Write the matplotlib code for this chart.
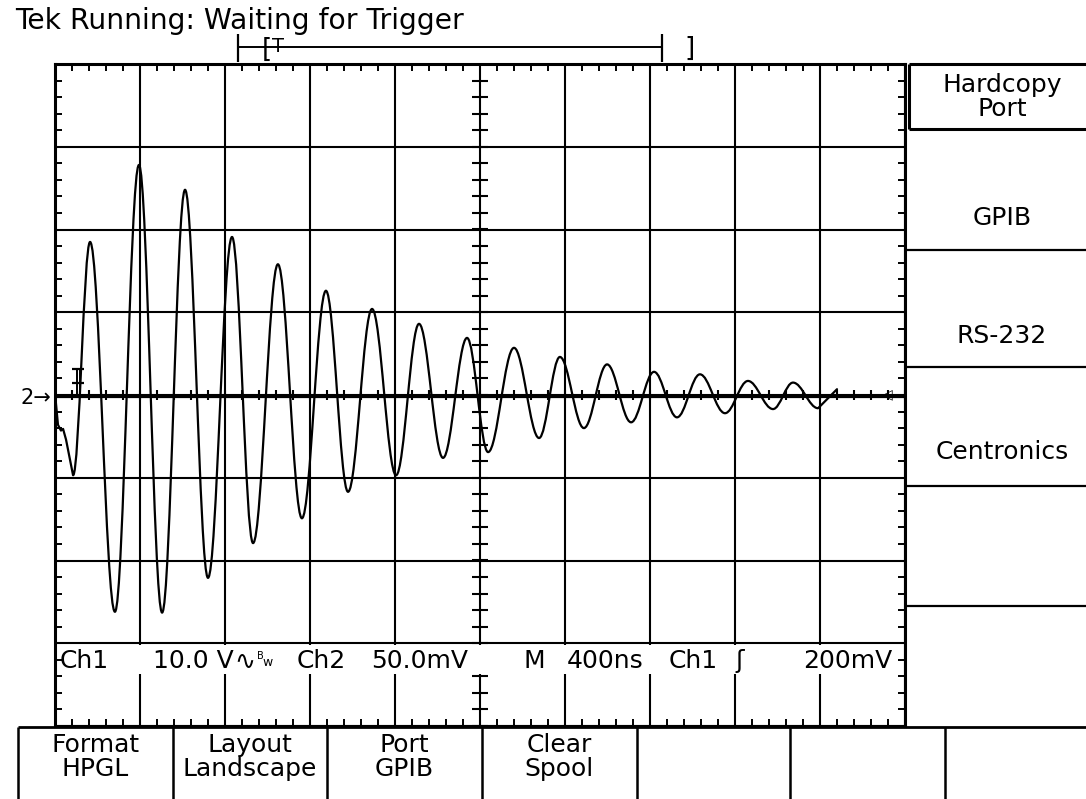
import numpy as np
import matplotlib
matplotlib.use("Agg")
import matplotlib.pyplot as plt
from matplotlib.path import Path
from matplotlib.patches import PathPatch, Rectangle
from matplotlib.ticker import MultipleLocator

# ---------------- data ----------------
time_per_div_ns = 400.0
ch1_volts_per_div = 10.0
ch2_mv_per_div = 50.0
trigger_time_ns = 110.0

# initial glitch of channel 1 (straight segments)
ch1_lead_time_ns = [0, 14, 28, 38, 52]
ch1_lead_volts = [0.2, -3.6, -4.3, -4.1, -5.4]
# successive extrema of the ringing (peaks / troughs)
ch1_ext_time_ns = [85, 165, 282, 395, 504, 612, 720, 833, 932, 1049, 1162,
                   1275, 1379, 1492, 1605, 1713, 1826, 1939, 2038, 2160, 2278,
                   2376, 2489, 2598, 2711, 2819, 2927, 3035, 3153, 3261, 3379,
                   3473, 3591]
ch1_ext_volts = [-9.7, 18.5, -26.2, 27.8, -26.3, 24.8, -22.1, 19.1, -17.9,
                 15.8, -14.9, 12.6, -11.7, 10.4, -9.7, 8.6, -7.6, 6.9, -6.9,
                 5.7, -5.2, 4.6, -4.0, 3.7, -3.3, 2.8, -2.7, 2.5, -2.2, 1.7,
                 -1.7, 1.5, -1.6]
ch1_tail_time_ns = [3680]
ch1_tail_volts = [0.7]

ch2_time_ns = [0, 4000]
ch2_mv = [-1.2, -1.2]

title_text = "Tek Running: Waiting for Trigger"
side_menu = ["Hardcopy\nPort", "GPIB", "RS-232", "Centronics", "", ""]
bottom_menu = ["Format\nHPGL", "Layout\nLandscape", "Port\nGPIB", "Clear\nSpool", "", "", ""]
readout = [("Ch1", 60), ("10.0 V", 153), ("\u223f", 234), ("Ch2", 297),
           ("50.0mV", 371), ("M", 523), ("400ns", 567), ("Ch1", 669),
           ("\u0283", 735), ("200mV", 803)]

# ---------------- layout ----------------
W, H, DPI = 1086, 799, 100
FONT = "DejaVu Sans"
plt.rcParams["font.family"] = [FONT]

fig = plt.figure(figsize=(W / DPI, H / DPI), dpi=DPI, facecolor="white")

gx0, gx1, gy0, gy1 = 55, 905, 64, 726   # graticule in pixels
ax = fig.add_axes([gx0 / W, (H - gy1) / H, (gx1 - gx0) / W, (gy1 - gy0) / H])
ax.set_xlim(0, 10)
ax.set_ylim(-4, 4)
ax.set_axisbelow(True)
ax.set_xticks(np.arange(0, 11, 1))
ax.set_yticks(np.arange(-4, 5, 1))
ax.xaxis.set_minor_locator(MultipleLocator(0.2))
ax.yaxis.set_minor_locator(MultipleLocator(0.2))
ax.tick_params(which="major", length=0, labelbottom=False, labelleft=False)
ax.tick_params(which="minor", direction="in", length=5, width=1.4,
               top=True, right=True, bottom=True, left=True, color="black")
ax.grid(True, which="major", color="black", lw=1.5)
for sp in ax.spines.values():
    sp.set_linewidth(2.2)
    sp.set_color("black")

# center-axis tick marks
cx = np.arange(0, 10.001, 0.2)
cy = np.arange(-4, 4.001, 0.2)
ax.plot(cx, np.zeros_like(cx), ls="none", marker="|", ms=7.5, mew=1.5,
        color="black", zorder=1)
ax.plot(np.full_like(cy, 5.0), cy, ls="none", marker="_", ms=11, mew=1.5,
        color="black", zorder=1)

# white band for the readout line
px_per_div_y = (gy1 - gy0) / 8.0
band_top = (395 - 645) / px_per_div_y
band_bot = (395 - 674) / px_per_div_y
ax.add_patch(Rectangle((0.08, band_bot), 9.84, band_top - band_bot,
                       facecolor="white", edgecolor="none", zorder=1.5))

# channel 2 flat trace
ax.plot(np.array(ch2_time_ns) / time_per_div_ns,
        np.array(ch2_mv) / ch2_mv_per_div, color="black", lw=1.6, zorder=2)

# channel 1 trace: lines for the glitch, smooth half-cycles between extrema
def to_div(t, v):
    return (t / time_per_div_ns, v / ch1_volts_per_div)

verts, codes = [], []
lead = [to_div(t, v) for t, v in zip(ch1_lead_time_ns, ch1_lead_volts)]
ext = [to_div(t, v) for t, v in zip(ch1_ext_time_ns, ch1_ext_volts)]
tail = [to_div(t, v) for t, v in zip(ch1_tail_time_ns, ch1_tail_volts)]
verts.append(lead[0]); codes.append(Path.MOVETO)
for p in lead[1:] + [ext[0]]:
    verts.append(p); codes.append(Path.LINETO)
k = 1 - 2 / np.pi
for p0, p1 in zip(ext[:-1], ext[1:]):
    dx = p1[0] - p0[0]
    verts += [(p0[0] + k * dx, p0[1]), (p1[0] - k * dx, p1[1]), p1]
    codes += [Path.CURVE4] * 3
for p in tail:
    verts.append(p); codes.append(Path.LINETO)
ax.add_patch(PathPatch(Path(verts, codes), facecolor="none", edgecolor="black",
                       lw=1.6, zorder=3, capstyle="round", joinstyle="round"))

# ---------------- overlay in pixel coordinates ----------------
ov = fig.add_axes([0, 0, 1, 1], zorder=5)
ov.set_xlim(0, W)
ov.set_ylim(H, 0)
ov.axis("off")
ov.patch.set_alpha(0)

def seg(xs, ys, lw=2.0):
    ov.plot(xs, ys, color="black", lw=lw, solid_capstyle="butt")

ov.text(15, 21, title_text, fontsize=20.3, ha="left", va="center")

# record-length bar
seg([238, 238], [34, 62], 1.6)
seg([662, 662], [34, 62], 1.6)
seg([238, 662], [47, 47], 1.4)
ov.text(262, 50, "[", fontsize=19, ha="left", va="center")
ov.text(272, 46, "T", fontsize=14, ha="left", va="center")
ov.text(684, 49, "]", fontsize=19, ha="left", va="center")

# channel reference marker and trigger marker
ov.text(20, 398, "2\u2192", fontsize=15, ha="left", va="center")
trig_px = gx0 + trigger_time_ns / time_per_div_ns * (gx1 - gx0) / 10
seg([trig_px - 1.5, trig_px - 1.5], [369, 396], 1.4)
seg([trig_px + 1.5, trig_px + 1.5], [369, 396], 1.4)
seg([trig_px - 6, trig_px + 6], [369, 369], 1.6)
seg([trig_px - 6, trig_px + 6], [383, 383], 1.6)
ov.text(882, 394, "\u25c1", fontsize=10, ha="left", va="center")

# readout line
for txt, xpos in readout:
    ov.text(xpos, 661, txt, fontsize=18, ha="left", va="center")
ov.text(257, 656, "B", fontsize=7, ha="left", va="center")
ov.text(262, 662, "w", fontsize=9, ha="left", va="center")

# side menu
seg([909, 1086], [64, 64], 2.2)
seg([909, 909], [64, 129], 2.2)
seg([909, 1086], [129, 129], 2.2)
for ysep in [250, 367, 486, 606]:
    seg([906, 1086], [ysep, ysep], 1.6)
side_centers = [97, 218, 336, 452, 546, 666]
for lab, yc in zip(side_menu, side_centers):
    if lab:
        ov.text(1002, yc, lab, fontsize=18, ha="center", va="center",
                linespacing=0.95)

# bottom menu
seg([18, 1086], [727, 727], 2.0)
dividers = [18, 173, 327, 482, 637, 790, 945]
for xd in dividers:
    seg([xd, xd], [727, 799], 1.8)
edges = dividers + [1100]
for i, lab in enumerate(bottom_menu):
    if lab:
        ov.text((edges[i] + edges[i + 1]) / 2, 757, lab, fontsize=18,
                ha="center", va="center", linespacing=0.95)

fig.savefig("out.png", dpi=DPI, facecolor="white")
